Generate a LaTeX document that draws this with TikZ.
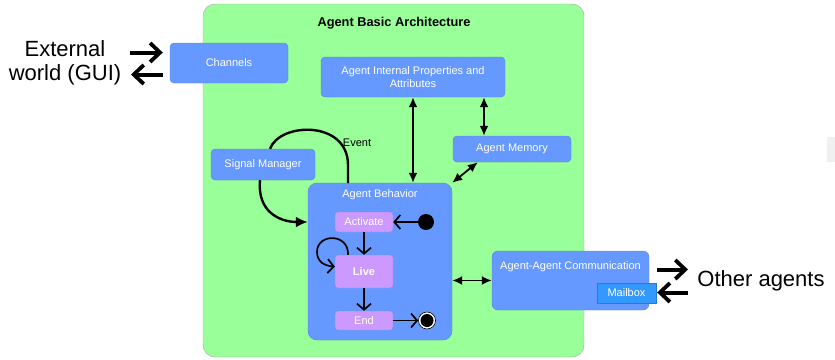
\documentclass[tikz,border=0pt]{standalone}
\usepackage{fontspec}
\setmainfont{Liberation Sans}
\usetikzlibrary{arrows.meta}
\definecolor{archgreen}{HTML}{99FF99}
\definecolor{boxblue}{HTML}{6699FF}
\definecolor{boxline}{HTML}{5A82D6}
\definecolor{statepurple}{HTML}{CC99FF}
\definecolor{mailblue}{HTML}{3399FF}
\tikzset{
block/.style={
  rectangle,
  rounded corners=4pt,
  draw=boxline,
  fill=boxblue,
  text=white,
  align=center,
  inner sep=0pt,
  font=\fontsize{11}{13}\selectfont
},
state/.style={block,rounded corners=3pt,draw=boxline!60!statepurple,fill=statepurple,minimum width=58pt},
link/.style={line width=1.8pt,{Latex[length=10pt,width=9pt]}-{Latex[length=10pt,width=9pt]}},
trans/.style={line width=1.7pt,-{Straight Barb[length=6pt,width=14pt,line width=1.7pt]}},
curve/.style={line width=2.4pt},
bigarrow/.style={line width=4pt,-{Straight Barb[length=10pt,width=19pt,line width=3.8pt]}},
bigtext/.style={font=\fontsize{22}{24}\selectfont,align=center}
}

\begin{document}
\begin{tikzpicture}[x=1pt,y=-1pt]
\useasboundingbox (0,0) rectangle (835,359);
\fill[gray!12] (827,137) rectangle (835,162);

% the container
\node (arch) at (393.5,180.5) [rectangle,rounded corners=12pt,draw=gray!70,fill=archgreen,
  minimum width=381pt,minimum height=353pt] {};
\node (title) at (394,23) [font=\fontsize{12.8}{14}\selectfont\bfseries] {Agent Basic Architecture};

% the blocks
\node (channels) at (229,63) [block,minimum width=118pt,minimum height=40pt] {Channels};
\node (props) at (413,77) [block,minimum width=184pt,minimum height=40pt] {Agent Internal Properties and\\Attributes};
\node (memory) at (512,149) [block,minimum width=118pt,minimum height=26pt] {Agent Memory};
\node (signal) at (263,164.5) [block,minimum width=104pt,minimum height=31pt] {Signal Manager};
\node (behavior) at (380,261.5) [block,rounded corners=9pt,minimum width=144pt,minimum height=157pt,
  label={[anchor=north,text=white,font=\fontsize{11}{13}\selectfont,yshift=-3pt]north:Agent Behavior}] {};
\node (comm) at (570.5,280.5) [block,rounded corners=6pt,minimum width=157pt,minimum height=59pt,
  label={[anchor=north,text=white,font=\fontsize{11}{13}\selectfont,yshift=-7pt]north:Agent-Agent Communication}] {};
\node (mailbox) at (626.5,293) [block,rounded corners=0pt,fill=mailblue,draw=mailblue!80!black,
  minimum width=59pt,minimum height=20pt] {Mailbox};

% the states
\node (activate) at (364,222) [state,minimum height=20pt] {Activate};
\node (live) at (364,271.5) [state,minimum height=33pt,font=\fontsize{11}{13}\selectfont\bfseries] {Live};
\node (end) at (364,320.5) [state,minimum height=19pt] {End};
\node (init) at (426,222) [circle,fill=black,minimum size=16pt,inner sep=0pt] {};
\node (final) at (427,320.5) [circle,draw=black,line width=0.6pt,fill=white,minimum size=17pt,inner sep=0pt,
  path picture={\fill[black] (path picture bounding box.center) circle (6.5pt);}] {};

% the outside
\node (ext) at (65,63) [bigtext] {External\\world (GUI)};
\node (others) at (761,281) [bigtext] {Other agents};
\coordinate (extout) at (130,52.5);
\coordinate (extin) at (131,74.5);
\coordinate (othersin) at (688,269.5);
\coordinate (othersout) at (688,292.5);

% the links
\draw[link] (props.south) -- (props.south |- behavior.north);
\draw[link] ([xshift=71pt]props.south) -- ([xshift=71pt]props.south |- memory.north);
\draw[link] ([xshift=25pt]memory.south west) -- (behavior.north east);
\draw[link] (behavior.east |- comm.west) -- (comm.west);

\draw[curve] ([xshift=7pt]signal.north) .. controls (280,122) and (348,120) .. (348,165) -- (348,183);
\node (event) at (357,143) [font=\fontsize{11}{13}\selectfont] {Event};
\draw[curve,-{Latex[length=12pt,width=11pt]}] ([xshift=-3pt]signal.south) .. controls (257,212) and (280,222) .. (behavior.west |- activate);

\draw[trans] (activate.south) -- (live.north);
\draw[trans] (live.south) -- (end.north);
\draw[trans] (init) -- (activate.east);
\draw[trans] (end.east) -- (final);
\draw[trans] ([xshift=-16pt]live.north) .. controls (349,233) and (317,233) .. (317,252)
  .. controls (317,262) and (325,266) .. ([yshift=5pt]live.west);

\draw[bigarrow] (extout) -- ([xshift=-7pt]extout -| channels.west);
\draw[bigarrow] ([xshift=-7pt]extin -| channels.west) -- (extin);
\draw[bigarrow] ([xshift=8pt]othersin -| comm.east) -- (othersin);
\draw[bigarrow] (othersout) -- ([xshift=1pt]othersout -| mailbox.east);
\end{tikzpicture}
\end{document}
